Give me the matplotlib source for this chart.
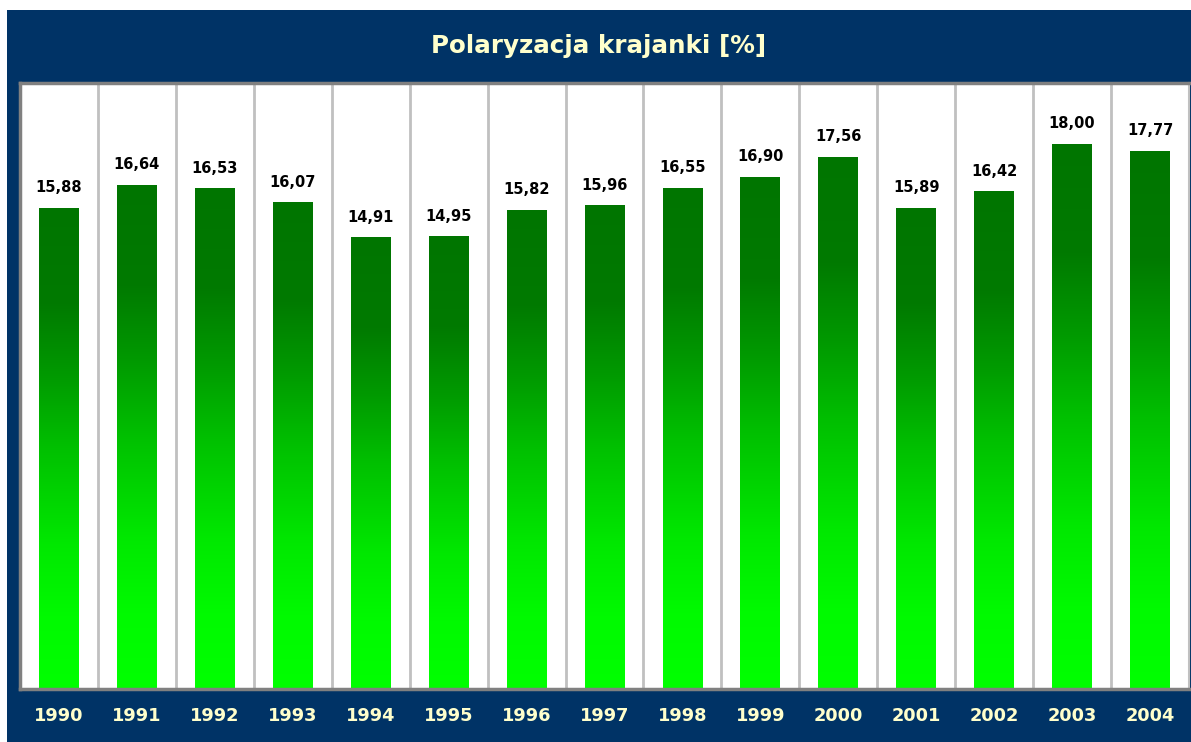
import matplotlib
matplotlib.use("Agg")
import matplotlib.pyplot as plt
import numpy as np
from matplotlib.colors import LinearSegmentedColormap
from matplotlib.patches import Rectangle

years = ["1990", "1991", "1992", "1993", "1994", "1995", "1996", "1997",
         "1998", "1999", "2000", "2001", "2002", "2003", "2004"]
values = [15.88, 16.64, 16.53, 16.07, 14.91, 14.95, 15.82, 15.96,
          16.55, 16.90, 17.56, 15.89, 16.42, 18.00, 17.77]
title = "Polaryzacja krajanki [%]"

W, H = 1191, 742
fig = plt.figure(figsize=(W / 100, H / 100), dpi=100, facecolor="white")

navy = "#003366"
fig.patches.append(Rectangle((7 / W, 0), 1 - 7 / W, 1 - 10 / H,
                             transform=fig.transFigure, facecolor=navy,
                             edgecolor="none", zorder=-10))

left, right, top, bottom = 20, 1189, 83, 689
ax = fig.add_axes([left / W, 1 - bottom / H, (right - left) / W, (bottom - top) / H])
ax.set_zorder(5)
ax.set_facecolor("white")
n = len(values)
ax.set_xlim(-0.5, n - 0.5)
ax.set_ylim(0, 20)

for k in range(1, n):
    ax.axvline(k - 0.5, color="#c0c0c0", lw=2, zorder=1)

cmap = LinearSegmentedColormap.from_list(
    "g", [(0.0, "#00ff00"), (0.15, "#00fa00"), (0.3, "#00e800"), (0.5, "#00c000"),
          (0.65, "#009a00"), (0.8, "#007a00"), (1.0, "#007500")])
grad = np.linspace(0, 1, 256).reshape(-1, 1)
bw = 0.51
bars = ax.bar(range(n), values, width=bw, color="none", edgecolor="none", zorder=2)
for i, (b, v) in enumerate(zip(bars, values)):
    im = ax.imshow(grad, cmap=cmap, aspect="auto", origin="lower",
                   extent=(i - bw / 2, i + bw / 2, 0, v), zorder=2)
    im.set_clip_path(b)
    ax.annotate(f"{v:.2f}".replace(".", ","), (i, v), xytext=(0, 9),
                textcoords="offset points", ha="center", va="bottom",
                fontsize=10.5, fontweight="bold", color="black", zorder=3)
ax.set_xlim(-0.5, n - 0.5)
ax.set_ylim(0, 20)

ax.set_yticks([])
ax.set_xticks(range(n))
ax.set_xticklabels(years, fontsize=12.8, fontweight="bold", color="#ffffcc")
ax.tick_params(axis="x", length=0, pad=13)
for s in ["top", "left", "bottom"]:
    ax.spines[s].set_color("#808080")
    ax.spines[s].set_linewidth(2.5)
ax.spines["right"].set_color("#c0c0c0")
ax.spines["right"].set_linewidth(1.5)

fig.text(0.5 + 3.5 / W, 1 - 46 / H, title, ha="center", va="center",
         fontsize=17.7, fontweight="bold", color="#ffffcc")

fig.savefig("out.png", dpi=100, facecolor=fig.get_facecolor())
